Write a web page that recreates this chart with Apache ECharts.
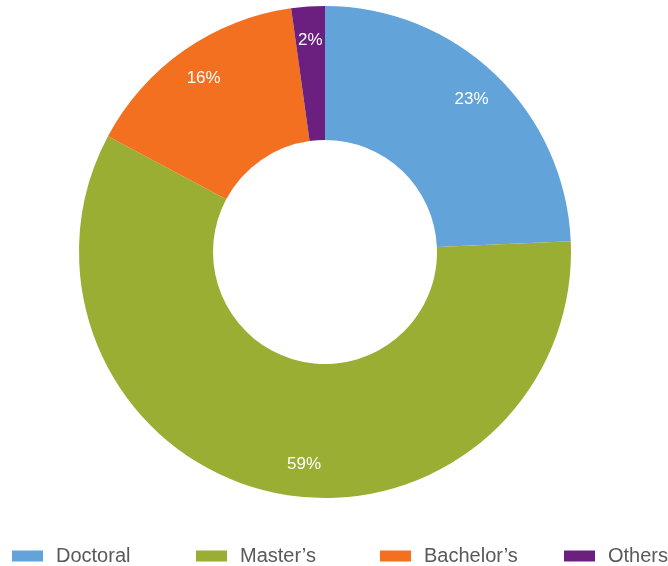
<!DOCTYPE html>
<html>
<head>
<meta charset="utf-8">
<script src="https://cdn.jsdelivr.net/npm/echarts@6/dist/echarts.min.js"></script>
<style>
  html, body { margin: 0; padding: 0; background: #fff; }
  #main { width: 668px; height: 566px; }
</style>
</head>
<body>
<div id="main"></div>
<script>
var categories = ['Doctoral', 'Master\u2019s', 'Bachelor\u2019s', 'Others'];
// slice sizes as measured from the ring
var shares = [24.3, 58.5, 15.0, 2.2];
// percentages as printed on the slices
var pctLabels = ['23%', '59%', '16%', '2%'];
var colors = ['#62a3d9', '#9aae33', '#f37021', '#6b2080'];
var legendLeft = [12, 196, 380, 564];

var myChart = echarts.init(document.getElementById('main'));

var ringData = categories.map(function (name, i) {
  return { name: name, value: shares[i], itemStyle: { color: colors[i] } };
});
var labelData = categories.map(function (name, i) {
  var item = { name: name, value: shares[i], label: { formatter: pctLabels[i] } };
  if (i === 1) item.label.offset = [26, 6]; // excel nudged this one
  return item;
});

var option = {
  animation: false,
  legend: categories.map(function (name, i) {
    return {
      data: [name],
      left: legendLeft[i],
      top: 546,
      padding: 0,
      icon: 'rect',
      itemWidth: 31,
      itemHeight: 11,
      selectedMode: false,
      textStyle: {
        color: '#595959',
        fontSize: 20,
        fontFamily: 'Liberation Sans',
        padding: [0, 0, 0, 8]
      }
    };
  }),
  series: [{
    type: 'pie',
    center: [325, 252],
    radius: [112, 246],
    startAngle: 90,
    clockwise: true,
    silent: true,
    label: { show: false },
    labelLine: { show: false },
    data: ringData
  }, {
    // transparent copy, only used to place the labels further out
    type: 'pie',
    center: [325, 252],
    radius: [170, 248],
    startAngle: 90,
    clockwise: true,
    silent: true,
    itemStyle: { color: 'transparent' },
    label: {
      show: true,
      position: 'inside',
      color: '#fff',
      fontSize: 17,
      fontFamily: 'Liberation Sans'
    },
    labelLine: { show: false },
    data: labelData
  }]
};
myChart.setOption(option);
window.addEventListener('resize', function () {
  myChart.resize();
});
</script>
</body>
</html>
